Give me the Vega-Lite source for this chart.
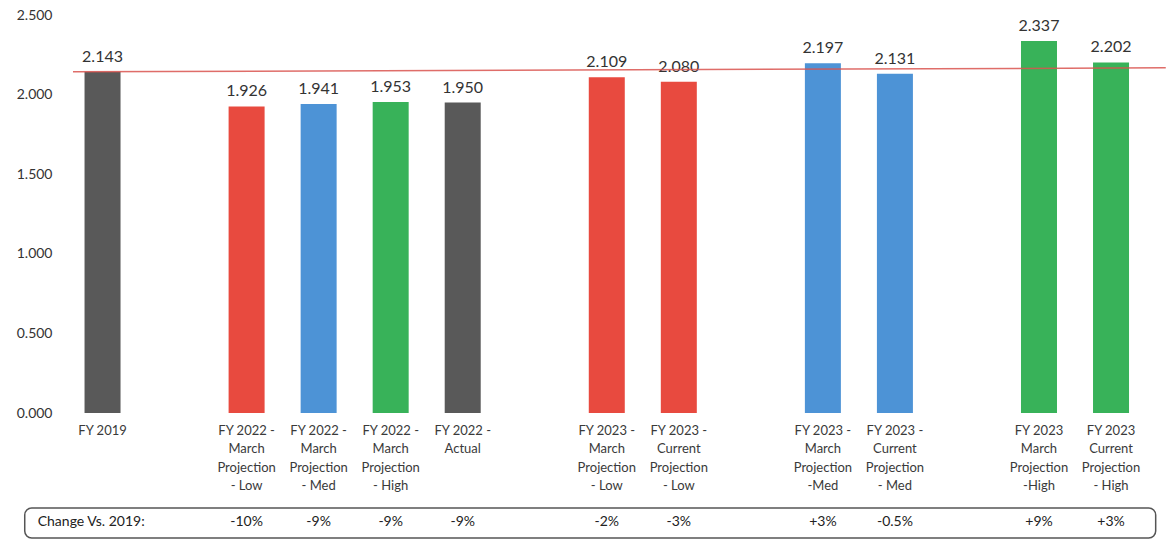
{
  "$schema": "https://vega.github.io/schema/vega-lite/v6.json",
  "autosize": "none",
  "width": 1079,
  "height": 398,
  "padding": {"left": 68, "top": 15, "right": 23, "bottom": 130},
  "background": "white",
  "config": {"view": {"stroke": null}, "font": "Lato"},
  "data": {"values": [
    {"slot": 0, "value": 2.143, "series": "Actual", "label": "FY 2019", "change": ""},
    {"slot": 2, "value": 1.926, "series": "Low", "label": "FY 2022 -\nMarch\nProjection\n- Low", "change": "-10%"},
    {"slot": 3, "value": 1.941, "series": "Med", "label": "FY 2022 -\nMarch\nProjection\n- Med", "change": "-9%"},
    {"slot": 4, "value": 1.953, "series": "High", "label": "FY 2022 -\nMarch\nProjection\n- High", "change": "-9%"},
    {"slot": 5, "value": 1.950, "series": "Actual", "label": "FY 2022 -\nActual", "change": "-9%"},
    {"slot": 7, "value": 2.109, "series": "Low", "label": "FY 2023 -\nMarch\nProjection\n- Low", "change": "-2%"},
    {"slot": 8, "value": 2.080, "series": "Low", "label": "FY 2023 -\nCurrent\nProjection\n- Low", "change": "-3%"},
    {"slot": 10, "value": 2.197, "series": "Med", "label": "FY 2023 -\nMarch\nProjection\n-Med", "change": "+3%"},
    {"slot": 11, "value": 2.131, "series": "Med", "label": "FY 2023 -\nCurrent\nProjection\n- Med", "change": "-0.5%"},
    {"slot": 13, "value": 2.337, "series": "High", "label": "FY 2023\nMarch\nProjection\n-High", "change": "+9%"},
    {"slot": 14, "value": 2.202, "series": "High", "label": "FY 2023\nCurrent\nProjection\n- High", "change": "+3%"}
  ]},
  "layer": [
    {
      "mark": {"type": "bar", "size": 36},
      "encoding": {
        "x": {"field": "slot", "type": "quantitative", "scale": {"domain": [-0.41, 14.43], "nice": false, "zero": false}, "axis": null},
        "y": {"field": "value", "type": "quantitative", "scale": {"domain": [0, 2.5], "nice": false},
          "axis": {"title": null, "values": [0, 0.5, 1, 1.5, 2, 2.5], "format": ".3f", "grid": false, "domain": false, "ticks": false, "labelFontSize": 14, "labelColor": "#333333", "labelPadding": 16, "labelFont": "Lato"}},
        "color": {"field": "series", "type": "nominal", "legend": null,
          "scale": {"domain": ["Actual", "Low", "Med", "High"], "range": ["#595959", "#e84a3f", "#4d93d6", "#38b259"]}}
      }
    },
    {
      "mark": {"type": "text", "baseline": "bottom", "dy": -7, "fontSize": 16, "color": "#333333"},
      "encoding": {
        "x": {"field": "slot", "type": "quantitative"},
        "y": {"field": "value", "type": "quantitative"},
        "text": {"field": "value", "type": "quantitative", "format": ".3f"}
      }
    },
    {
      "mark": {"type": "text", "baseline": "top", "align": "center", "fontSize": 13, "lineHeight": 18.5, "lineBreak": "\n", "color": "#3a3a3a"},
      "encoding": {
        "x": {"field": "slot", "type": "quantitative"},
        "y": {"datum": -0.075},
        "text": {"field": "label"}
      }
    },
    {
      "mark": {"type": "text", "baseline": "middle", "align": "center", "fontSize": 14, "color": "#222222"},
      "encoding": {
        "x": {"field": "slot", "type": "quantitative"},
        "y": {"datum": -0.685},
        "text": {"field": "change"}
      }
    },
    {
      "data": {"values": [{"t": "Change Vs. 2019:"}]},
      "layer": [
        {
          "mark": {"type": "rect", "fill": null, "stroke": "#555555", "strokeWidth": 1.5, "cornerRadius": 7, "clip": false},
          "encoding": {
            "x": {"datum": -1.08, "type": "quantitative"},
            "x2": {"datum": 14.62},
            "y": {"datum": -0.597, "type": "quantitative"},
            "y2": {"datum": -0.785}
          }
        },
        {
          "mark": {"type": "text", "align": "left", "baseline": "middle", "fontSize": 14, "color": "#222222"},
          "encoding": {
            "x": {"datum": -0.9, "type": "quantitative"},
            "y": {"datum": -0.685, "type": "quantitative"},
            "text": {"field": "t"}
          }
        },
        {
          "mark": {"type": "rule", "color": "#d9534f", "strokeWidth": 1.5, "opacity": 0.85},
          "encoding": {
            "x": {"datum": -0.41, "type": "quantitative"},
            "x2": {"datum": 14.76},
            "y": {"datum": 2.143, "type": "quantitative"},
            "y2": {"datum": 2.168}
          }
        }
      ]
    }
  ]
}
